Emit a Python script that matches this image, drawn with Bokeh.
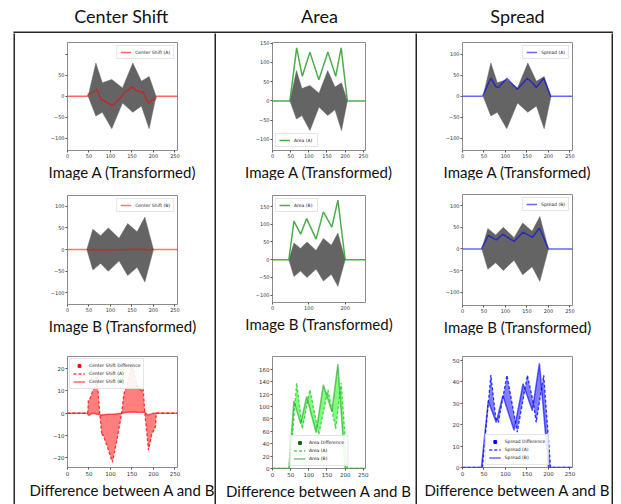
import numpy as np
from bokeh.plotting import figure
from bokeh.layouts import row, column
from bokeh.models import Range1d, Legend, LegendItem, FixedTicker, Spacer, BoxAnnotation
from bokeh.core.properties import value
from bokeh.embed import file_html
from bokeh.resources import INLINE

# ---------------- data ----------------
column_titles = ["Center Shift", "Area", "Spread"]
row_titles = ["Image A (Transformed)", "Image B (Transformed)", "Difference between A and B"]

shape_a_x = [48, 66, 81, 103, 128, 152, 172, 190, 206]
shape_a_upper = [0, 79, 32, 40, 20, 79, 36, 47, 0]
shape_a_lower = [0, -47, -38, -77, -16, -38, -23, -77, 0]

shape_b_x = [45, 59, 77, 95, 120, 140, 162, 180, 200]
shape_b_upper = [0, 47, 32, 50, 26, 60, 41, 75, 0]
shape_b_lower = [0, -47, -32, -50, -26, -60, -41, -75, 0]

center_a_x = [0, 47, 48.5, 53.5, 58.5, 66, 67.5, 71, 75, 80, 82.5, 93.5, 104.5, 116, 126, 131,
              138.5, 151, 158.5, 168.5, 173.5, 176, 180, 188.5, 196, 205, 206.5, 256]
center_a = [0, 0, 5.5, 7, 10, 13, 18, 10, 0, -10, -9.5, -15.5, -22, -11, 0, 8.5,
            13, 22.5, 14.5, 10.7, 10, 11, 0, -16.5, -9.5, -6, 0, 0]
center_b_x = [0, 45, 50, 58, 70, 80, 95, 110, 125, 140, 155, 170, 180, 186, 195, 200, 256]
center_b = [0, 0, -1, 0, -0.5, -0.8, -0.5, -0.3, 0, 0.4, 0.5, 0.3, 0.5, -0.8, -0.3, 0, 0]

area_a_x = [0, 48, 66.5, 82, 103, 127.5, 152.5, 174, 189, 206, 256]
area_a = [0, 0, 138, 64, 127, 55, 127, 64, 138, 0, 0]
area_b_x = [0, 45, 59, 77.5, 94, 120, 140, 163.5, 180, 200, 256]
area_b = [0, 0, 109, 72, 116, 58, 135, 92, 168, 0, 0]

spread_a_x = [0, 46.5, 66, 77.5, 83.5, 103.5, 127.5, 151, 165, 171.5, 189, 205, 256]
spread_a = [0, 0, 43, 23, 21, 43, 16.5, 43, 30, 21, 43, 0, 0]
spread_b_x = [0, 44, 60, 78.5, 94, 120, 141, 162.5, 179, 200, 256]
spread_b = [0, 0, 31, 21, 33.5, 17.3, 39, 26.5, 48.5, 0, 0]

x_ticks = [0, 50, 100, 150, 200, 250]
x_ticks_narrow = [0, 100, 200]
y_ticks_img = [-100, -50, 0, 50, 100]
y_ticks_area = [-100, -50, 0, 50, 100, 150]
y_ticks_center_diff = [-20, -10, 0, 10, 20]
y_ticks_area_diff = [0, 20, 40, 60, 80, 100, 120, 140, 160]
y_ticks_spread_diff = [0, 10, 20, 30, 40, 50]

GRAY = "#646464"
TITLE_FONT = "Lato"
TICK_FONT = "DejaVu Sans"
BORDER = "#262626"


def fmt(t):
    return ("\u2212" + str(abs(t))) if t < 0 else str(t)


def make_fig(w, h, mb, title, xr, yr, xticks, yticks, lab="5px", hide=(), standoff=0):
    l, r, t, b = mb
    p = figure(width=w, height=h, x_range=Range1d(*xr), y_range=Range1d(*yr),
               output_backend="svg", toolbar_location=None, title=title,
               title_location="below", min_border_left=l, min_border_right=r,
               min_border_top=t, min_border_bottom=b)
    p.title.align = "center"
    p.title.text_font = TITLE_FONT
    p.title.text_font_size = "15px"
    p.title.text_font_style = "normal"
    p.title.text_color = "#111111"
    p.title.standoff = standoff
    p.grid.visible = False
    p.outline_line_color = "#8c8c8c"
    p.outline_line_width = 1
    p.background_fill_color = "white"
    p.border_fill_color = "white"
    for ax, ticks in ((p.xaxis[0], xticks), (p.yaxis[0], yticks)):
        ax.ticker = FixedTicker(ticks=ticks)
        ov = {tk: fmt(tk) for tk in ticks}
        if ax is p.yaxis[0]:
            for hv in hide:
                ov[hv] = ""
        ax.major_label_overrides = ov
        ax.axis_line_color = None
        ax.major_tick_out = 2
        ax.major_tick_in = 0
        ax.minor_tick_line_color = None
        ax.major_tick_line_color = "#555555"
        ax.major_label_text_font = TICK_FONT
        ax.major_label_text_font_size = lab
        ax.major_label_text_color = "#333333"
        ax.major_label_standoff = 1
    return p


def add_legend(p, items, loc, fs="4.5px", gh=6, gw=11, margin=3):
    leg = Legend(items=items, location=loc, label_text_font_size=fs,
                 label_text_font=TICK_FONT, label_text_color="#222222",
                 glyph_width=gw, glyph_height=gh, label_height=gh, label_standoff=4,
                 padding=3, spacing=1, margin=margin,
                 border_line_color="#cccccc", background_fill_alpha=0.9)
    p.add_layout(leg)


def image_fig(w, h, mb, title, yr, sx, su, sl, lx, ly, color, alpha, label, loc,
              yticks, xticks=x_ticks, hide=()):
    p = make_fig(w, h, mb, title, (0, 256), yr, xticks, yticks, hide=hide)
    p.patch(sx + sx[::-1], su + sl[::-1], fill_color=GRAY, line_color=GRAY, line_width=0.5)
    r = p.line(lx, ly, line_color=color, line_alpha=alpha, line_width=1.5)
    add_legend(p, [LegendItem(label=label, renderers=[r])], loc)
    return p


def diff_fig(w, h, mb, yr, yticks, ax_, ay, bx, by, fill, line_a, line_b, marker_col,
             name, loc):
    p = make_fig(w, h, mb, row_titles[2], (0, 256), yr, x_ticks, yticks, lab="5.5px")
    p.patch(ax_ + bx[::-1], ay + by[::-1], fill_color=fill, fill_alpha=0.5, line_color=None)
    ra = p.line(ax_, ay, line_color=line_a, line_alpha=0.75, line_width=1.3, line_dash="3 2")
    rb = p.line(bx, by, line_color=line_b, line_alpha=0.6, line_width=1.5)
    rm = p.scatter(x=np.array([np.nan]), y=np.array([np.nan]), marker="square", size=4,
                   fill_color=marker_col, line_color=marker_col)
    add_legend(p, [LegendItem(label=name + " Difference", renderers=[rm]),
                   LegendItem(label=name + " (A)", renderers=[ra]),
                   LegendItem(label=name + " (B)", renderers=[rb])], loc,
               fs="4.5px", gh=7, gw=12, margin=2)
    return p


# ---------------- column 1 : Center Shift ----------------
c1a = image_fig(199, 147, (52, 37, 9, 28), row_titles[0], (-129, 128),
                shape_a_x, shape_a_upper, shape_a_lower, center_a_x, center_a,
                "red", 0.6, "Center Shift (A)", "top_right", y_ticks_img, hide=(100,))
c1b = image_fig(199, 155, (52, 36, 15, 31), row_titles[1], (-127, 125),
                shape_b_x, shape_b_upper, shape_b_lower, center_b_x, center_b,
                "red", 0.55, "Center Shift (B)", "top_right", y_ticks_img)
c1d = diff_fig(199, 169, (23, 6, 21, 37), (-24.3, 25.4), y_ticks_center_diff,
               center_a_x, center_a, center_b_x, center_b, "red", "red", "red", "red",
               "Center Shift", "top_left")

# ---------------- column 2 : Area ----------------
c2a = image_fig(199, 147, (52, 46, 9, 27), row_titles[0], (-129, 152),
                shape_a_x, shape_a_upper, shape_a_lower, area_a_x, area_a,
                "#2ca02c", 0.85, "Area (A)", "bottom_left", y_ticks_area)
c2b = image_fig(199, 155, (56, 50, 15, 33), row_titles[1], (-120.5, 181),
                shape_b_x, shape_b_upper, shape_b_lower, area_b_x, area_b,
                "#2ca02c", 0.85, "Area (B)", "top_left", y_ticks_area, xticks=x_ticks_narrow)
c2d = diff_fig(199, 169, (21, 8, 21, 36), (0, 180.6), y_ticks_area_diff,
               area_a_x, area_a, area_b_x, area_b, "lime", "#22c422", "#1f9f1f", "#006400",
               "Area", "bottom")

# ---------------- column 3 : Spread ----------------
c3a = image_fig(194, 147, (44, 39, 9, 28), row_titles[0], (-129, 128),
                shape_a_x, shape_a_upper, shape_a_lower, spread_a_x, spread_a,
                "blue", 0.6, "Spread (A)", "top_right", y_ticks_img)
c3b = image_fig(194, 155, (45, 38, 14, 30), row_titles[1], (-131, 126),
                shape_b_x, shape_b_upper, shape_b_lower, spread_b_x, spread_b,
                "blue", 0.6, "Spread (B)", "top_right", y_ticks_img)
c3d = diff_fig(194, 169, (16, 9, 21, 37), (0, 51.7), y_ticks_spread_diff,
               spread_a_x, spread_a, spread_b_x, spread_b, "blue", "blue", "blue", "blue",
               "Spread", "bottom")


# ---------------- frame / header ----------------
def bar(w, h):
    f = figure(width=w, height=h, toolbar_location=None, output_backend="svg",
               min_border=0, x_axis_location=None, y_axis_location=None,
               outline_line_color=None, background_fill_color=BORDER,
               border_fill_color=BORDER)
    f.grid.visible = False
    return f


W = 613
HH = 33
header = figure(width=W, height=HH, x_range=Range1d(0, W), y_range=Range1d(0, HH),
                toolbar_location=None, output_backend="svg", min_border=0,
                x_axis_location=None, y_axis_location=None, outline_line_color=None)
header.grid.visible = False
header.text(x=[121, 319, 517], y=[18, 18, 18], text=column_titles,
            text_font=value(TITLE_FONT), text_font_size=value("18px"),
            text_align="center", text_baseline="middle", text_color="#111111")
header.add_layout(BoxAnnotation(left=13, right=613, bottom=0, top=2,
                                fill_color=BORDER, fill_alpha=1, line_color=None))

H = 471
body = row(Spacer(width=13, height=H), bar(2, H),
           column(c1a, c1b, c1d), bar(2, H),
           column(c2a, c2b, c2d), bar(2, H),
           column(c3a, c3b, c3d), bar(2, H))
layout = column(header, body)

open("out.html", "w").write(file_html(layout, INLINE))
